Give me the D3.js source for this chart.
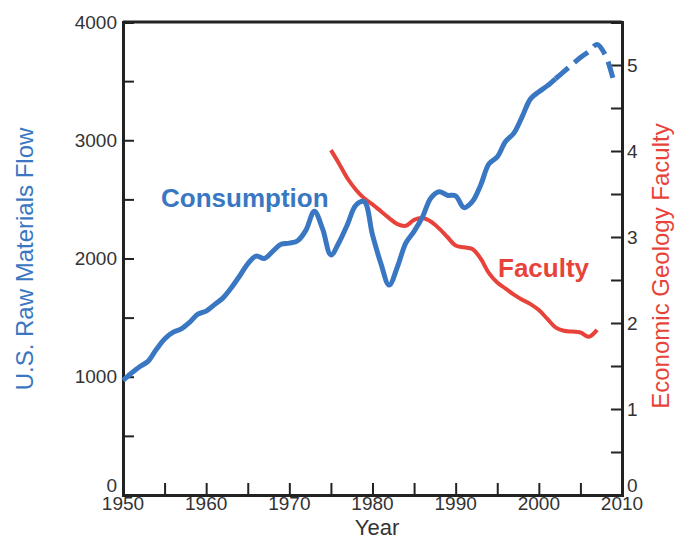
<!DOCTYPE html>
<html lang="en">
<head>
  <meta charset="utf-8">
  <title>Raw Materials Flow vs Economic Geology Faculty</title>
  <style>
    body {
      margin: 0;
      background: #fff;
      font-family: 'Liberation Sans', Arial, sans-serif;
    }

    .axis path, .axis line {
      stroke: #222;
    }
  </style>
</head>
<body>
  <div id="chart"></div>

  <script src="https://d3js.org/d3.v7.min.js"></script>
  <script>
    // Consumption (left axis), solid part
    var consYears = [1950, 1951, 1952, 1953, 1954, 1955, 1956, 1957, 1958, 1959,
      1960, 1961, 1962, 1963, 1964, 1965, 1966, 1967, 1968, 1969,
      1970, 1971, 1972, 1973, 1974, 1975, 1976, 1977, 1978, 1979,
      1980, 1981, 1982, 1983, 1984, 1985, 1986, 1987, 1988, 1989,
      1990, 1991, 1992, 1993, 1994, 1995, 1996, 1997, 1998, 1999,
      2000, 2001, 2002];
    var consValues = [970, 1030, 1085, 1130, 1230, 1320, 1375, 1405, 1460, 1530,
      1555, 1610, 1665, 1750, 1850, 1955, 2020, 2000, 2060, 2120,
      2130, 2150, 2240, 2400, 2250, 2030, 2140, 2290, 2450, 2480,
      2200, 1960, 1775, 1930, 2130, 2230, 2350, 2510, 2565, 2535,
      2530, 2430, 2480, 2620, 2800, 2860, 2990, 3060, 3200, 3350,
      3410, 3460, 3520];

    // Consumption, dashed projection
    var projYears = [2002, 2003, 2004, 2005, 2006, 2007, 2008, 2009];
    var projValues = [3520, 3580, 3640, 3700, 3750, 3810, 3720, 3500];

    // Faculty (right axis)
    var facYears = [1975, 1976, 1977, 1978, 1979, 1980, 1981, 1982, 1983, 1984,
      1985, 1986, 1987, 1988, 1989, 1990, 1991, 1992, 1993, 1994,
      1995, 1996, 1997, 1998, 1999, 2000, 2001, 2002, 2003, 2004,
      2005, 2006, 2007];
    var facValues = [4.01, 3.85, 3.68, 3.55, 3.45, 3.38, 3.30, 3.22, 3.15, 3.13,
      3.20, 3.22, 3.18, 3.10, 3.00, 2.90, 2.88, 2.86, 2.75, 2.58,
      2.47, 2.40, 2.33, 2.27, 2.22, 2.15, 2.05, 1.95, 1.91, 1.90,
      1.89, 1.84, 1.92];

    var xTicks = [1950, 1960, 1970, 1980, 1990, 2000, 2010];
    var leftTicks = [0, 1000, 2000, 3000, 4000];
    var rightTicks = [0, 1, 2, 3, 4, 5];

    var blue = "#3a77c2";
    var red = "#e8433a";

    var width = 675, height = 540;
    var plotLeft = 123, plotRight = 622, plotTop = 22, plotBottom = 495;

    var svg = d3.select("#chart")
      .append("svg")
      .attr("width", width)
      .attr("height", height);

    // Scales
    var x = d3.scaleLinear().domain([1950, 2010]).range([plotLeft, plotRight]);
    var yL = d3.scaleLinear().domain([0, 4000]).range([plotBottom, plotTop]);
    var yR = d3.scaleLinear().domain([0, 5.5]).range([plotBottom, plotTop]);

    // Top border
    svg.append("line")
      .attr("x1", plotLeft).attr("x2", plotRight)
      .attr("y1", plotTop).attr("y2", plotTop)
      .attr("stroke", "#222")
      .attr("stroke-width", 3);

    // Left axis: ticks every 500, labels at thousands
    var gL = svg.append("g")
      .attr("class", "axis")
      .attr("transform", "translate(" + plotLeft + ",0)")
      .call(d3.axisRight(yL).tickValues(d3.range(0, 4001, 500)).tickSize(11).tickFormat(""));
    gL.select(".domain").attr("stroke-width", 3);
    gL.selectAll(".tick line").attr("stroke-width", 2);

    svg.append("g").selectAll("text")
      .data(leftTicks)
      .join("text")
      .attr("x", plotLeft - 6)
      .attr("y", function(d) { return yL(d) + (d === 0 ? -10 : 0); })
      .attr("dy", "0.35em")
      .attr("text-anchor", "end")
      .attr("fill", "#333")
      .style("font-size", "19px")
      .text(function(d) { return d; });

    // Right axis: ticks every 0.5
    var gR = svg.append("g")
      .attr("class", "axis")
      .attr("transform", "translate(" + plotRight + ",0)")
      .call(d3.axisLeft(yR).tickValues(d3.range(0, 5.01, 0.5)).tickSize(11).tickFormat(""));
    gR.select(".domain").attr("stroke-width", 3);
    gR.selectAll(".tick line").attr("stroke-width", 2);

    svg.append("g").selectAll("text")
      .data(rightTicks)
      .join("text")
      .attr("x", plotRight + 5)
      .attr("y", function(d) { return yR(d) + (d === 0 ? -10 : 0); })
      .attr("dy", "0.35em")
      .attr("fill", "#333")
      .style("font-size", "19px")
      .text(function(d) { return d; });

    // Bottom axis: ticks every 5 years pointing up
    var gB = svg.append("g")
      .attr("class", "axis")
      .attr("transform", "translate(0," + plotBottom + ")")
      .call(d3.axisTop(x).tickValues(d3.range(1950, 2011, 5)).tickSize(12).tickFormat(""));
    gB.select(".domain").attr("stroke-width", 3);
    gB.selectAll(".tick line").attr("stroke-width", 2);

    svg.append("g").selectAll("text")
      .data(xTicks)
      .join("text")
      .attr("x", function(d) { return x(d); })
      .attr("y", plotBottom + 15)
      .attr("text-anchor", "middle")
      .attr("fill", "#333")
      .style("font-size", "19px")
      .text(function(d) { return d; });

    // Lines
    var consLine = d3.line()
      .x(function(d) { return x(d[0]); })
      .y(function(d) { return yL(d[1]); })
      .curve(d3.curveCatmullRom);

    var facLine = d3.line()
      .x(function(d) { return x(d[0]); })
      .y(function(d) { return yR(d[1]); })
      .curve(d3.curveCatmullRom);

    svg.append("path")
      .datum(d3.zip(facYears, facValues))
      .attr("d", facLine)
      .attr("fill", "none")
      .attr("stroke", red)
      .attr("stroke-width", 4)
      .attr("stroke-linejoin", "round");

    svg.append("path")
      .datum(d3.zip(consYears, consValues))
      .attr("d", consLine)
      .attr("fill", "none")
      .attr("stroke", blue)
      .attr("stroke-width", 5)
      .attr("stroke-linejoin", "round");

    svg.append("path")
      .datum(d3.zip(projYears, projValues))
      .attr("d", consLine)
      .attr("fill", "none")
      .attr("stroke", blue)
      .attr("stroke-width", 5)
      .attr("stroke-dasharray", "17,8");

    // Series labels
    svg.append("text")
      .attr("x", 161)
      .attr("y", 207)
      .attr("fill", blue)
      .style("font-size", "26px")
      .style("font-weight", "bold")
      .text("Consumption");

    svg.append("text")
      .attr("x", 498)
      .attr("y", 277)
      .attr("fill", red)
      .style("font-size", "26px")
      .style("font-weight", "bold")
      .text("Faculty");

    // Axis titles
    svg.append("text")
      .attr("transform", "translate(33,259) rotate(-90)")
      .attr("text-anchor", "middle")
      .attr("fill", blue)
      .style("font-size", "24px")
      .text("U.S. Raw Materials Flow");

    svg.append("text")
      .attr("transform", "translate(669,266) rotate(-90)")
      .attr("text-anchor", "middle")
      .attr("fill", red)
      .style("font-size", "24px")
      .text("Economic Geology Faculty");

    svg.append("text")
      .attr("x", 377)
      .attr("y", 535)
      .attr("text-anchor", "middle")
      .attr("fill", "#333")
      .style("font-size", "22px")
      .text("Year");
  </script>
</body>
</html>
